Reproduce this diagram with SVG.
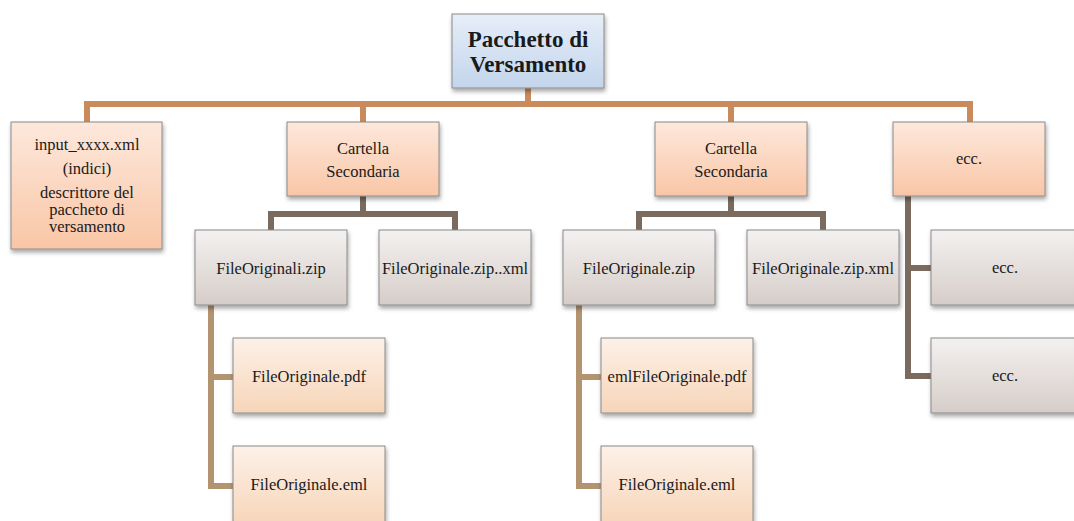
<svg xmlns="http://www.w3.org/2000/svg" width="1074" height="521" viewBox="0 0 1074 521">
<defs>
<linearGradient id="gBlue" x1="0" y1="0" x2="0" y2="1"><stop offset="0" stop-color="#e6eef8"/><stop offset="1" stop-color="#c3d5ec"/></linearGradient>
<linearGradient id="gOrange" x1="0" y1="0" x2="0" y2="1"><stop offset="0" stop-color="#fde8dc"/><stop offset="1" stop-color="#f9c6a6"/></linearGradient>
<linearGradient id="gGray" x1="0" y1="0" x2="0" y2="1"><stop offset="0" stop-color="#f3f1f0"/><stop offset="1" stop-color="#d6cdc9"/></linearGradient>
<linearGradient id="gPeach" x1="0" y1="0" x2="0" y2="1"><stop offset="0" stop-color="#fdf1e8"/><stop offset="1" stop-color="#f6d5b8"/></linearGradient>
<filter id="sh" x="-10%" y="-10%" width="130%" height="140%"><feDropShadow dx="1" dy="3" stdDeviation="2" flood-color="#000" flood-opacity="0.35"/></filter>
</defs>
<style>
.box{stroke:#8a8a8a;stroke-width:1;filter:url(#sh)}
.blue{fill:url(#gBlue)}
.orange{fill:url(#gOrange)}
.gray{fill:url(#gGray)}
.peach{fill:url(#gPeach)}
text{font-family:"Liberation Serif","DejaVu Serif",serif;font-size:16.5px;fill:#1a1a1a;text-anchor:middle}
.title{font-size:23px;font-weight:bold}
.c1{fill:none;stroke:#c98a5c;stroke-width:6}
.c2{fill:none;stroke:#7b6a5e;stroke-width:6}
.c3{fill:none;stroke:#b39470;stroke-width:6}
</style>
<g id="connectors">
<path class="c1" d="M528 88V104M87 104H970M87 101V122M363 101V122M731 101V122M970 101V122"/>
<path class="c2" d="M363 196V214M270 214H458M271 211V230M455 211V230"/>
<path class="c2" d="M731 196V214M638 214H826M639 211V230M823 211V230"/>
<path class="c2" d="M908 196V379M905 268H931M905 376H931"/>
<path class="c3" d="M211 305V489M208 377H233M208 486H233"/>
<path class="c3" d="M579 305V489M576 377H601M576 486H601"/>
</g>
<g id="root"><rect class="box blue" x="452" y="14" width="152" height="74"/><text class="title" x="528" y="47">Pacchetto di</text><text class="title" x="528" y="72">Versamento</text></g>
<g id="input"><rect class="box orange" x="11" y="122" width="151" height="127"/><text x="87" y="150">input_xxxx.xml</text><text x="87" y="174">(indici)</text><text x="87" y="198">descrittore del</text><text x="87" y="215">paccheto di</text><text x="87" y="232">versamento</text></g>
<g id="cartella1"><rect class="box orange" x="287" y="122" width="152" height="74"/><text x="363" y="154">Cartella</text><text x="363" y="177">Secondaria</text></g>
<g id="cartella2"><rect class="box orange" x="655" y="122" width="152" height="74"/><text x="731" y="154">Cartella</text><text x="731" y="177">Secondaria</text></g>
<g id="ecc1"><rect class="box orange" x="893" y="122" width="152" height="74"/><text x="969" y="164">ecc.</text></g>
<g id="zip1"><rect class="box gray" x="195" y="230" width="152" height="75"/><text x="271" y="274">FileOriginali.zip</text></g>
<g id="zipxml1"><rect class="box gray" x="379" y="230" width="152" height="75"/><text x="455" y="274">FileOriginale.zip..xml</text></g>
<g id="zip2"><rect class="box gray" x="563" y="230" width="152" height="75"/><text x="639" y="274">FileOriginale.zip</text></g>
<g id="zipxml2"><rect class="box gray" x="747" y="230" width="152" height="75"/><text x="823" y="274">FileOriginale.zip.xml</text></g>
<g id="ecc2"><rect class="box gray" x="931" y="230" width="150" height="75"/><text x="1005" y="273">ecc.</text></g>
<g id="ecc3"><rect class="box gray" x="931" y="338" width="150" height="75"/><text x="1005" y="381">ecc.</text></g>
<g id="pdf1"><rect class="box peach" x="233" y="338" width="152" height="75"/><text x="309" y="382">FileOriginale.pdf</text></g>
<g id="eml1"><rect class="box peach" x="233" y="446" width="152" height="80"/><text x="309" y="490">FileOriginale.eml</text></g>
<g id="pdf2"><rect class="box peach" x="601" y="338" width="152" height="75"/><text x="677" y="382">emlFileOriginale.pdf</text></g>
<g id="eml2"><rect class="box peach" x="601" y="446" width="152" height="80"/><text x="677" y="490">FileOriginale.eml</text></g>
</svg>
